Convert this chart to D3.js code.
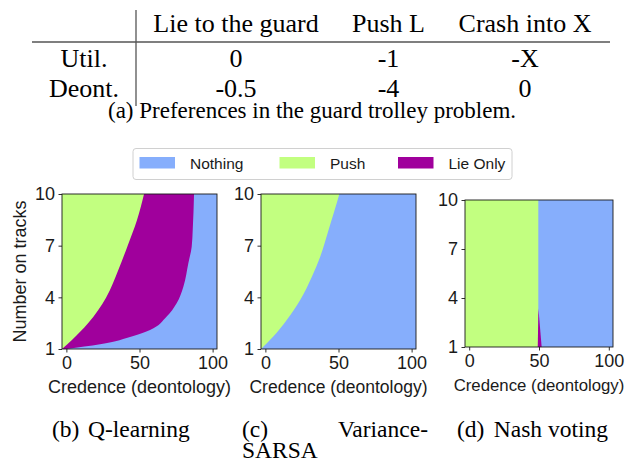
<!DOCTYPE html>
<html>
<head>
<meta charset="utf-8">
<script src="https://cdn.jsdelivr.net/npm/d3@7"></script>
<style>
  html, body { margin: 0; padding: 0; background: #fff; }
  svg { display: block; }
</style>
</head>
<body>
<svg id="fig" width="629" height="463"></svg>
<script>
// ---- Preference table ----
const actions = ["Lie to the guard", "Push L", "Crash into X"];
const theories = ["Util.", "Deont."];
const utilPrefs = ["0", "-1", "-X"];
const deontPrefs = ["-0.5", "-4", "0"];

// ---- Policy maps ----
const outcomes = ["Nothing", "Push", "Lie Only"];
const outcomeColors = ["#86aefc", "#c2ff80", "#a0009c"];
const trackTicks = [1, 4, 7, 10];
const credenceTicks = [0, 50, 100];
const credenceExtent = [-3, 103];
const trackExtent = [1, 10];

// Q-learning: credence where "Push" gives way to "Lie Only", and where "Lie Only" gives way to "Nothing"
const qPushTracks = [1, 1.52, 2.49, 3.98, 5.59, 7.0, 8.49, 10];
const qPushEdge   = [-3, 3.8, 14.8, 27.1, 35.5, 41.9, 48.3, 53.1];
const qLieTracks  = [1, 1.27, 1.75, 2.10, 2.88, 3.65, 4.62, 5.98, 6.94, 7.91, 10];
const qLieEdge    = [0.2, 23.0, 45.8, 57.2, 68.6, 75.4, 80.0, 83.4, 85.7, 86.4, 87.3];

// Variance-SARSA: credence where "Push" gives way to "Nothing"
const sarsaTracks   = [1, 1.72, 2.68, 3.85, 5.2, 6.36, 7.91, 8.88, 10];
const sarsaPushEdge = [-3, 5.4, 14.6, 23.8, 31.8, 37.5, 43.2, 46.7, 50.6];

// Nash voting: vertical split, plus a thin "Lie Only" sliver at few tracks
const nashTracks    = [1, 10];
const nashPushEdge  = [49.5, 49.5];
const nashLieCredence = [49.1, 49.6, 51.9];
const nashLieTracks   = [1, 3.36, 1];

const subcaptions = [
  { label: "(b)", text: "Q-learning" },
  { label: "(c)", text: "Variance-", text2: "SARSA" },
  { label: "(d)", text: "Nash voting" }
];

const svg = d3.select("#fig");
const serif = "'Liberation Serif', 'Times New Roman', serif";
const sans = "'Liberation Sans', Arial, sans-serif";

// ---- Table ----
const table = svg.append("g").attr("font-family", serif).attr("font-size", 26).attr("fill", "#000");
const colCenters = { "Lie to the guard": 236, "Push L": 388.5, "Crash into X": 525 };
actions.forEach(a => {
  table.append("text").attr("x", colCenters[a]).attr("y", 32)
    .attr("text-anchor", "middle").text(a);
});
const rows = [utilPrefs, deontPrefs];
const rowY = [66.5, 97];
theories.forEach((t, i) => {
  table.append("text").attr("x", 84).attr("y", rowY[i]).attr("text-anchor", "middle").text(t);
  rows[i].forEach((v, j) => {
    table.append("text").attr("x", colCenters[actions[j]]).attr("y", rowY[i])
      .attr("text-anchor", "middle").text(v);
  });
});
table.append("line").attr("x1", 32).attr("x2", 610).attr("y1", 42).attr("y2", 42)
  .attr("stroke", "#555").attr("stroke-width", 1.3);
table.append("line").attr("x1", 136).attr("x2", 136).attr("y1", 10).attr("y2", 106)
  .attr("stroke", "#555").attr("stroke-width", 1.3);
table.append("text").attr("x", 108).attr("y", 118).attr("font-size", 23)
  .text("(a) Preferences in the guard trolley problem.");

// ---- Legend ----
const legend = svg.append("g").attr("font-family", sans).attr("font-size", 15.5);
legend.append("rect").attr("x", 133).attr("y", 148.5).attr("width", 379).attr("height", 31)
  .attr("rx", 3).attr("fill", "#fff").attr("stroke", "#d0d0d0").attr("stroke-width", 1);
const legendX = [139.5, 279.5, 398];
outcomes.forEach((o, i) => {
  legend.append("rect").attr("x", legendX[i]).attr("y", 157).attr("width", 35.5).attr("height", 11.5)
    .attr("fill", outcomeColors[i]);
  legend.append("text").attr("x", legendX[i] + 50.5).attr("y", 168.5).attr("fill", "#1a1a1a").text(o);
});

// ---- Panels ----
const panels = [
  { left: 62, top: 194, width: 155, height: 155, ylabel: true, fontSize: 18, xlabelY: 393,
    areas: [
      { tracks: qLieTracks, edge: qLieEdge, color: outcomeColors[2] },
      { tracks: qPushTracks, edge: qPushEdge, color: outcomeColors[1] }
    ] },
  { left: 261, top: 194, width: 155, height: 155, fontSize: 17.5, xlabelY: 393,
    areas: [ { tracks: sarsaTracks, edge: sarsaPushEdge, color: outcomeColors[1] } ] },
  { left: 465, top: 200, width: 148, height: 147, fontSize: 16.8, xlabelY: 391,
    areas: [ { tracks: nashTracks, edge: nashPushEdge, color: outcomeColors[1] } ],
    polys: [ { credence: nashLieCredence, tracks: nashLieTracks, color: outcomeColors[2] } ] }
];

panels.forEach((p, k) => {
  const x = d3.scaleLinear().domain(credenceExtent).range([0, p.width]);
  const y = d3.scaleLinear().domain(trackExtent).range([p.height, 0]);
  const g = svg.append("g").attr("transform", `translate(${p.left},${p.top})`);
  const clipId = "clip" + k;
  g.append("clipPath").attr("id", clipId).append("rect")
    .attr("width", p.width).attr("height", p.height);
  const plot = g.append("g").attr("clip-path", `url(#${clipId})`);

  plot.append("rect").attr("width", p.width).attr("height", p.height).attr("fill", outcomeColors[0]);

  p.areas.forEach(a => {
    const pts = a.tracks.map((t, i) => [a.edge[i], t]);
    const area = d3.area()
      .y(d => y(d[1]))
      .x0(() => x(credenceExtent[0]))
      .x1(d => x(d[0]))
      .curve(d3.curveMonotoneY);
    plot.append("path").datum(pts).attr("d", area).attr("fill", a.color);
  });
  (p.polys || []).forEach(q => {
    const pts = q.credence.map((c, i) => [x(c), y(q.tracks[i])]);
    plot.append("path").attr("d", d3.line()(pts) + "Z").attr("fill", q.color);
  });

  const yAxis = d3.axisLeft(y).tickValues(trackTicks).tickSize(3.5).tickPadding(3.5);
  const xAxis = d3.axisBottom(x).tickValues(credenceTicks).tickSize(3.5).tickPadding(3.5);
  const ya = g.append("g").call(yAxis);
  const xa = g.append("g").attr("transform", `translate(0,${p.height})`).call(xAxis);
  [ya, xa].forEach(a => {
    a.select(".domain").remove();
    a.selectAll("text").attr("font-family", sans).attr("font-size", 18).attr("fill", "#1a1a1a");
    a.selectAll("line").attr("stroke", "#1a1a1a").attr("stroke-width", 0.9);
  });

  g.append("rect").attr("width", p.width).attr("height", p.height)
    .attr("fill", "none").attr("stroke", "#1a1a1a").attr("stroke-width", 0.9);

  g.append("text").attr("x", p.width / 2).attr("y", p.xlabelY - p.top)
    .attr("text-anchor", "middle").attr("font-family", sans).attr("font-size", p.fontSize)
    .attr("fill", "#1a1a1a").text("Credence (deontology)");

  if (p.ylabel) {
    g.append("text").attr("transform", `translate(${26 - p.left},${p.height / 2}) rotate(-90)`)
      .attr("text-anchor", "middle").attr("font-family", sans).attr("font-size", 18)
      .attr("fill", "#1a1a1a").text("Number on tracks");
  }
});

// ---- Sub-captions ----
const caps = svg.append("g").attr("font-family", serif).attr("font-size", 23.5).attr("fill", "#000");
caps.append("text").attr("x", 52).attr("y", 437).text(subcaptions[0].label);
caps.append("text").attr("x", 88).attr("y", 437).text(subcaptions[0].text);
caps.append("text").attr("x", 242).attr("y", 437).text(subcaptions[1].label);
caps.append("text").attr("x", 428).attr("y", 437).attr("text-anchor", "end").text(subcaptions[1].text);
caps.append("text").attr("x", 242).attr("y", 458).text(subcaptions[1].text2);
caps.append("text").attr("x", 457).attr("y", 437).text(subcaptions[2].label);
caps.append("text").attr("x", 608).attr("y", 437).attr("text-anchor", "end").text(subcaptions[2].text);
</script>
</body>
</html>
